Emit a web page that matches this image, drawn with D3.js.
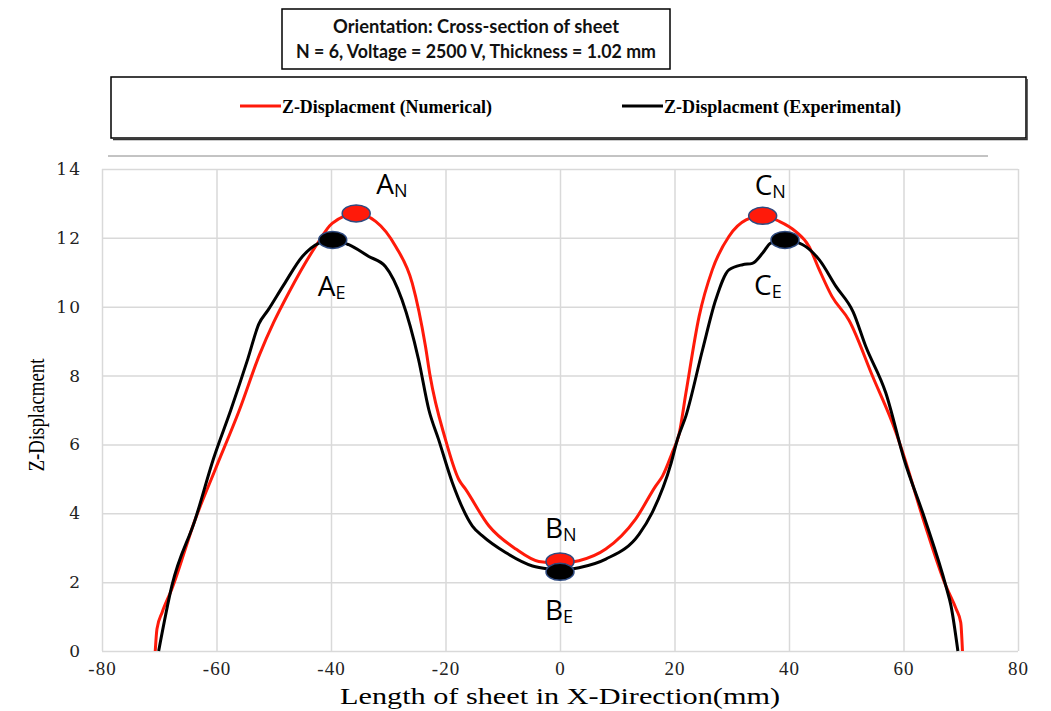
<html>
<head>
<meta charset="utf-8">
<title>Z-Displacement cross-section</title>
<script src="https://d3js.org/d3.v7.min.js"></script>
<style>
body { margin: 0; background: #fff; }
svg { display: block; }
.grid line { stroke: #d9d9d9; stroke-width: 1.5; }
.grid path { display: none; }
.tick text { font-family: 'Liberation Serif', 'Times New Roman', serif; fill: #222; }
</style>
</head>
<body>
<svg width="1051" height="711"></svg>
<script>

// ---- data ----
var xTicks = [-80, -60, -40, -20, 0, 20, 40, 60, 80];
var yTicks = [0, 2, 4, 6, 8, 10, 12, 14];

var titleLines = ["Orientation: Cross-section of sheet",
                  "N = 6, Voltage = 2500 V, Thickness = 1.02 mm"];
var seriesNames = ["Z-Displacment (Numerical)", "Z-Displacment (Experimental)"];

// numerical (red) [x mm, z]
var numerical = [
  [-70.7,0],[-70.4,0.64],[-69.5,1.12],[-67.8,1.8],[-63.7,3.83],[-60.2,5.28],[-56,7.0],
  [-52.5,8.6],[-50,9.55],[-47.4,10.4],[-42.7,11.75],[-39.8,12.42],
  [-35.6,12.7],[-32.2,12.48],[-28.7,11.75],[-25.8,10.68],[-23.5,8.85],[-22.7,8.0],[-20.0,6.14],
  [-17.7,4.99],[-16.5,4.7],[-12.4,3.63],[-7.7,2.96],[-3.7,2.6],[0,2.55],[3.3,2.62],[8.0,2.96],
  [13.2,3.83],[16.7,4.79],[17.9,5.08],[19.6,5.76],[20.8,6.3],[22.0,7.5],[24.3,9.72],[26.6,11.07],
  [29.5,12.04],[32.5,12.52],[35.4,12.64],[38.3,12.48],[41.2,12.18],[43.5,11.75],[45.3,11.07],
  [47.5,10.3],[50.5,9.6],[54.6,7.98],[58.7,6.34],[59.8,5.8],[63.5,3.8],[67.4,1.89],[69.2,1.22],
  [70.0,0.83],[70.3,0]
];

// experimental (black) [x mm, z]
var experimental = [
  [-70.1,0],[-67.8,1.89],[-63.7,3.83],[-60.5,5.6],[-57.5,7.0],[-54.5,8.5],[-52.6,9.5],
  [-51,9.9],[-48.2,10.65],[-45.0,11.46],[-42.1,11.85],[-39.7,11.94],[-36.9,11.8],[-33.4,11.46],
  [-30.5,11.17],[-27.6,10.2],[-24.7,8.46],[-22.9,7.0],[-21.2,6.14],[-18.8,4.89],[-15.3,3.63],
  [-13.6,3.35],[-9.5,2.86],[-4.8,2.47],[-1.9,2.38],[0,2.35],[3.3,2.42],[8.0,2.67],[13.8,3.39],
  [16.1,4.02],[19.4,5.45],[20.5,6.14],[22.0,6.83],[24.9,8.75],[27.2,10.2],[29.5,11.07],
  [31.9,11.22],[33.6,11.26],[35.4,11.56],[36.8,11.85],[39.3,11.94],[42.4,11.8],[45.3,11.36],
  [48.2,10.59],[51.2,9.85],[53.4,8.85],[56.9,7.5],[60.1,5.57],[63.8,3.8],[67.4,1.89],[68.3,1.31],
  [69.5,0]
];

// highlighted points
var pointNames = ["A", "A", "B", "B", "C", "C"];
var pointSubs  = ["N", "E", "N", "E", "N", "E"];
var pointX     = [-35.6, -39.7, 0, 0, 35.4, 39.3];
var pointY     = [12.71, 11.94, 2.6, 2.3, 12.64, 11.94];

// ---- drawing ----
var svg = d3.select("svg");

var x = d3.scaleLinear().domain([-80, 80]).range([102, 1018]);
var y = d3.scaleLinear().domain([0, 14]).range([651, 169]);

// title box
svg.append("rect").attr("x", 282).attr("y", 9).attr("width", 388).attr("height", 60)
  .attr("fill", "#fff").attr("stroke", "#000").attr("stroke-width", 1.5);
svg.selectAll("text.title").data(titleLines).enter().append("text")
  .attr("class", "title")
  .attr("x", 476).attr("y", function (d, i) { return 33 + i * 25; })
  .attr("text-anchor", "middle")
  .attr("textLength", function (d, i) { return i == 0 ? 286 : 360; })
  .attr("lengthAdjust", "spacingAndGlyphs")
  .style("font-family", "Lato, 'Open Sans', sans-serif")
  .style("font-weight", "bold").style("font-size", "18px").style("fill", "#111")
  .text(function (d) { return d; });

// legend box
svg.append("rect").attr("x", 111).attr("y", 77).attr("width", 915).attr("height", 61)
  .attr("fill", "#fff").attr("stroke", "#000").attr("stroke-width", 1.5);
svg.append("path").attr("d", "M1027,79 V139.5 H113")
  .attr("fill", "none").attr("stroke", "#333").attr("stroke-width", 1.5);

var legendItems = [
  { name: seriesNames[0], color: "#ff1a0a", x0: 240, len: 210 },
  { name: seriesNames[1], color: "#000", x0: 622, len: 237 }
];
var lg = svg.selectAll("g.legend").data(legendItems).enter().append("g").attr("class", "legend");
lg.append("line")
  .attr("x1", function (d) { return d.x0; }).attr("x2", function (d) { return d.x0 + 41; })
  .attr("y1", 106).attr("y2", 106)
  .attr("stroke", function (d) { return d.color; }).attr("stroke-width", 3);
lg.append("text")
  .attr("x", function (d) { return d.x0 + 42; }).attr("y", 113)
  .attr("textLength", function (d) { return d.len; })
  .attr("lengthAdjust", "spacingAndGlyphs")
  .style("font-family", "'Liberation Serif', 'Times New Roman', serif")
  .style("font-weight", "bold").style("font-size", "19px")
  .text(function (d) { return d.name; });

// stray line above plot
svg.append("line").attr("x1", 108).attr("x2", 988).attr("y1", 156).attr("y2", 156)
  .attr("stroke", "#888").attr("stroke-width", 1);

// grid + axes
svg.append("g").attr("class", "grid")
  .attr("transform", "translate(0,651)")
  .call(d3.axisBottom(x).tickValues(xTicks).tickSize(-482).tickPadding(11).tickFormat(function (d) { return String(d); }))
  .selectAll("text").style("font-size", "19px").style("letter-spacing", "1px");

svg.append("g").attr("class", "grid")
  .attr("transform", "translate(102,0)")
  .call(d3.axisLeft(y).tickValues(yTicks).tickSize(-916).tickPadding(20).tickFormat(function (d) { return String(d); }))
  .selectAll("text").style("font-family", "'DejaVu Serif', serif").style("font-size", "17px").style("letter-spacing", "2px");

// axis titles
svg.append("text").attr("x", 560).attr("y", 704).attr("text-anchor", "middle")
  .attr("textLength", 440).attr("lengthAdjust", "spacingAndGlyphs")
  .style("font-family", "'Liberation Serif', 'Times New Roman', serif").style("font-size", "23px")
  .text("Length of sheet in X-Direction(mm)");

svg.append("text").attr("transform", "translate(44,415) rotate(-90)").attr("text-anchor", "middle")
  .attr("textLength", 113).attr("lengthAdjust", "spacingAndGlyphs")
  .style("font-family", "'Liberation Serif', 'Times New Roman', serif").style("font-size", "24px")
  .text("Z-Displacment");

// curves
var line = d3.line()
  .x(function (d) { return x(d[0]); })
  .y(function (d) { return y(d[1]); })
  .curve(d3.curveMonotoneX);

svg.append("path").datum(numerical).attr("d", line)
  .attr("fill", "none").attr("stroke", "#ff1a0a").attr("stroke-width", 3);
svg.append("path").datum(experimental).attr("d", line)
  .attr("fill", "none").attr("stroke", "#000").attr("stroke-width", 3);

// markers and labels
var points = pointNames.map(function (n, i) {
  return { name: n, sub: pointSubs[i], x: pointX[i], y: pointY[i] };
});
// label offsets from the marker, in px
var labelOffset = { AN: [20, -19], AE: [-15, 56], BN: [-15, -23], BE: [-15, 48], CN: [-8, -21], CE: [-31, 55] };

svg.selectAll("ellipse.pt").data(points).enter().append("ellipse")
  .attr("class", "pt")
  .attr("cx", function (d) { return x(d.x); }).attr("cy", function (d) { return y(d.y); })
  .attr("rx", 14).attr("ry", 8.5)
  .attr("fill", function (d) { return d.sub == "N" ? "#ff1a0a" : "#000"; })
  .attr("stroke", "#2e4a80").attr("stroke-width", 1.5);

var lab = svg.selectAll("text.pt").data(points).enter().append("text")
  .attr("class", "pt")
  .attr("x", function (d) { return x(d.x) + labelOffset[d.name + d.sub][0]; })
  .attr("y", function (d) { return y(d.y) + labelOffset[d.name + d.sub][1]; })
  .style("font-family", "'Open Sans', 'Noto Sans', sans-serif").style("font-size", "28px");
lab.append("tspan").text(function (d) { return d.name; });
lab.append("tspan").attr("dy", 3).style("font-size", "18px").text(function (d) { return d.sub; });

</script>
</body>
</html>
